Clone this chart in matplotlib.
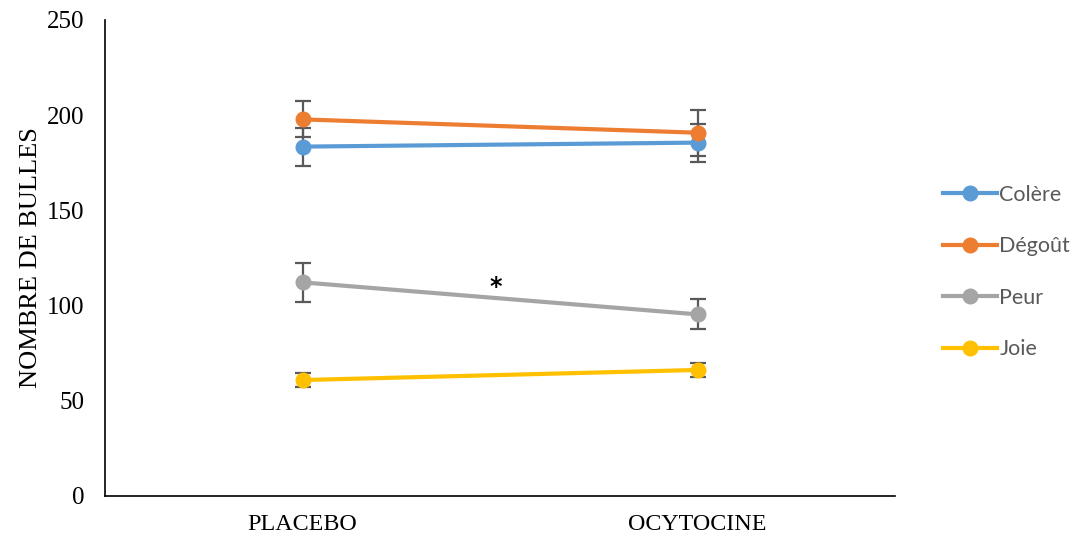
import matplotlib.pyplot as plt

conditions = ['PLACEBO', 'OCYTOCINE']
emotions = ['Colère', 'Dégoût', 'Peur', 'Joie']
colere = [183.5, 185.6]
colere_err = [10.0, 10.0]
degout = [197.8, 190.8]
degout_err = [9.5, 12.1]
peur = [112.2, 95.4]
peur_err = [10.3, 7.9]
joie = [60.9, 66.2]
joie_err = [3.9, 3.8]

colors = ['#5B9BD5', '#ED7D31', '#A5A5A5', '#FFC000']

fig = plt.figure(figsize=(10.8, 5.37), dpi=100)
ax = fig.add_axes([105/1080, 41/537, 790/1080, 476/537])

x = list(range(len(conditions)))
series = [(colere, colere_err), (degout, degout_err), (peur, peur_err), (joie, joie_err)]
handles = []
for (vals, errs), name, c in zip(series, emotions, colors):
    ax.errorbar(x, vals, yerr=errs, fmt='none', ecolor='#595959', elinewidth=1.6,
                capsize=6, capthick=1.6, zorder=2)
    h, = ax.plot(x, vals, color=c, lw=3, marker='o', markersize=10.5, zorder=3, label=name)
    handles.append(h)

ax.text(0.49, 110, '*', ha='center', va='center', fontsize=17, fontweight='bold',
        family='DejaVu Sans')

ax.set_xlim(-0.5, 1.5)
ax.set_ylim(0, 250)
ax.set_yticks([0, 50, 100, 150, 200, 250])
ax.set_xticks(x)
ax.set_xticklabels(conditions)
for s in ['top', 'right']:
    ax.spines[s].set_visible(False)
for s in ['left', 'bottom']:
    ax.spines[s].set_linewidth(1.2)
ax.tick_params(axis='y', length=0, labelsize=18, pad=15)
ax.tick_params(axis='x', length=0, labelsize=17.3, pad=13)
for lab in ax.get_xticklabels() + ax.get_yticklabels():
    lab.set_family('Liberation Serif')
ax.set_ylabel('NOMBRE DE BULLES', family='Liberation Serif', fontsize=19, labelpad=3)

leg = fig.legend(handles=handles, loc='center left', bbox_to_anchor=(943/1080, 1 - 272/537),
                 frameon=False, borderpad=0, borderaxespad=0, handlelength=2.5,
                 handletextpad=0.12, labelspacing=1.47, prop={'family': 'Lato', 'size': 15.5})
for t in leg.get_texts():
    t.set_color('#595959')

fig.savefig('out.png', dpi=100)
